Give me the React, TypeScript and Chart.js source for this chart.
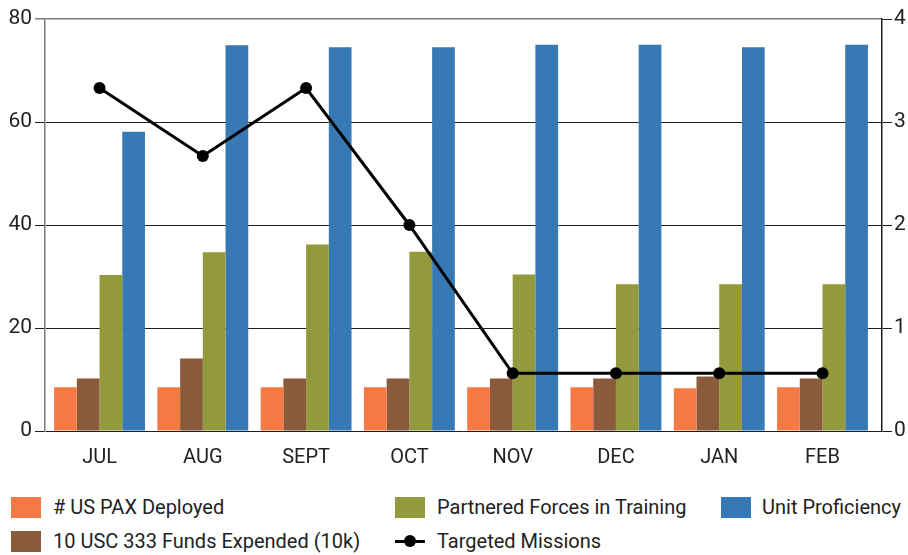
import React, { useEffect, useRef } from "react";
import { Chart, registerables } from "chart.js";

Chart.register(...registerables);

const months = ["JUL", "AUG", "SEPT", "OCT", "NOV", "DEC", "JAN", "FEB"];
const usPaxDeployed = [8.5, 8.5, 8.5, 8.5, 8.5, 8.5, 8.3, 8.5];
const fundsExpended = [10.2, 14.1, 10.2, 10.2, 10.2, 10.2, 10.6, 10.2];
const partneredForces = [30.3, 34.7, 36.2, 34.8, 30.4, 28.5, 28.5, 28.5];
const unitProficiency = [58.1, 74.9, 74.5, 74.5, 75.0, 75.0, 74.5, 75.0];
const targetedMissions = [3.33, 2.67, 3.33, 2.0, 0.56, 0.56, 0.56, 0.56];
const leftTicks = [0, 20, 40, 60, 80];
const rightTicks = [0, 1, 2, 3, 4];

const COLORS = {
  orange: "#F37A45",
  brown: "#8A5B3B",
  green: "#939A3E",
  blue: "#3779B5",
  line: "#000000",
};

const FONT = "Roboto, 'Noto Sans', sans-serif";

const toXY = (arr: number[]) => arr.map((v, i) => ({ x: i, y: v }));

export default function App() {
  const ref = useRef<HTMLCanvasElement | null>(null);

  useEffect(() => {
    if (!ref.current) return;
    const chart = new Chart(ref.current, {
      type: "bar",
      data: {
        datasets: [
          {
            type: "line",
            label: "Targeted Missions",
            data: toXY(targetedMissions),
            yAxisID: "y1",
            borderColor: COLORS.line,
            backgroundColor: COLORS.line,
            borderWidth: 3,
            pointRadius: 6,
            pointBackgroundColor: COLORS.line,
            pointBorderWidth: 0,
            tension: 0,
            order: 0,
          } as any,
          {
            label: "# US PAX Deployed",
            data: toXY(usPaxDeployed),
            backgroundColor: COLORS.orange,
            yAxisID: "y",
            order: 1,
          },
          {
            label: "10 USC 333 Funds Expended (10k)",
            data: toXY(fundsExpended),
            backgroundColor: COLORS.brown,
            yAxisID: "y",
            order: 1,
          },
          {
            label: "Partnered Forces in Training",
            data: toXY(partneredForces),
            backgroundColor: COLORS.green,
            yAxisID: "y",
            order: 1,
          },
          {
            label: "Unit Proficiency",
            data: toXY(unitProficiency),
            backgroundColor: COLORS.blue,
            yAxisID: "y",
            order: 1,
          },
        ],
      },
      options: {
        animation: false,
        responsive: true,
        maintainAspectRatio: false,
        datasets: {
          bar: { categoryPercentage: 0.88, barPercentage: 1.0 },
        } as any,
        layout: { padding: { top: 19, left: 0, right: 0, bottom: 0 } },
        plugins: {
          legend: { display: false },
          tooltip: { enabled: false },
        },
        scales: {
          x: {
            type: "linear",
            offset: false,
            min: -0.528,
            max: 7.576,
            grid: { display: false, drawTicks: false, offset: false },
            border: { display: false },
            afterBuildTicks: (s: any) => {
              s.ticks = months.map((_, i) => ({ value: i }));
            },
            ticks: {
              padding: 15,
              color: "#222",
              font: { family: FONT, size: 20 },
              callback: (v: any) => months[Math.round(Number(v))] ?? "",
              maxRotation: 0,
              autoSkip: false,
            },
            afterFit: (s: any) => {
              s.height = 44;
            },
          },
          y: {
            position: "left",
            min: 0,
            max: 80,
            afterBuildTicks: (s: any) => {
              s.ticks = leftTicks.map((v) => ({ value: v }));
            },
            grid: {
              color: (c: any) => (c.tick && c.tick.value === 80 ? "#7a7a7a" : "#1e1e1e"),
              lineWidth: (c: any) => (c.tick && c.tick.value === 80 ? 1.5 : 1),
              tickLength: 10,
              drawTicks: true,
            },
            border: { display: true, color: "#7a7a7a", width: 1.5 },
            ticks: {
              padding: 3,
              color: "#222",
              font: { family: FONT, size: 21 },
            },
            afterFit: (s: any) => {
              s.width = 45;
            },
          },
          y1: {
            position: "right",
            min: 0,
            max: 4,
            afterBuildTicks: (s: any) => {
              s.ticks = rightTicks.map((v) => ({ value: v }));
            },
            grid: {
              drawOnChartArea: false,
              color: "#1e1e1e",
              tickLength: 10,
              drawTicks: true,
            },
            border: { display: true, color: "#1e1e1e", width: 1.5 },
            ticks: {
              padding: 2,
              color: "#222",
              font: { family: FONT, size: 21 },
            },
            afterFit: (s: any) => {
              s.width = 26;
            },
          },
        },
      },
    });
    return () => chart.destroy();
  }, []);

  const legendText: React.CSSProperties = {
    position: "absolute",
    fontFamily: FONT,
    fontSize: 20,
    color: "#222",
    lineHeight: "21px",
    whiteSpace: "nowrap",
  };
  const box = (left: number, top: number, color: string) => (
    <div style={{ position: "absolute", left, top, width: 30, height: 21, background: color }} />
  );

  return (
    <div
      style={{
        position: "fixed",
        left: 0,
        top: 0,
        width: 908,
        height: 555,
        overflow: "hidden",
        background: "#fff",
      }}
    >
      <div style={{ position: "absolute", left: 0, top: 0, width: 908, height: 475 }}>
        <canvas ref={ref} />
      </div>
      {box(11, 497, COLORS.orange)}
      <div style={{ ...legendText, left: 53, top: 497 }}># US PAX Deployed</div>
      {box(11, 531, COLORS.brown)}
      <div style={{ ...legendText, left: 53, top: 531 }}>10 USC 333 Funds Expended (10k)</div>
      {box(395, 497, COLORS.green)}
      <div style={{ ...legendText, left: 437, top: 497 }}>Partnered Forces in Training</div>
      {box(721, 497, COLORS.blue)}
      <div style={{ ...legendText, left: 762, top: 497 }}>Unit Proficiency</div>
      <div style={{ position: "absolute", left: 395, top: 540, width: 30, height: 3, background: COLORS.line }} />
      <div
        style={{
          position: "absolute",
          left: 404,
          top: 535,
          width: 12,
          height: 12,
          borderRadius: 6,
          background: COLORS.line,
        }}
      />
      <div style={{ ...legendText, left: 437, top: 531 }}>Targeted Missions</div>
    </div>
  );
}
